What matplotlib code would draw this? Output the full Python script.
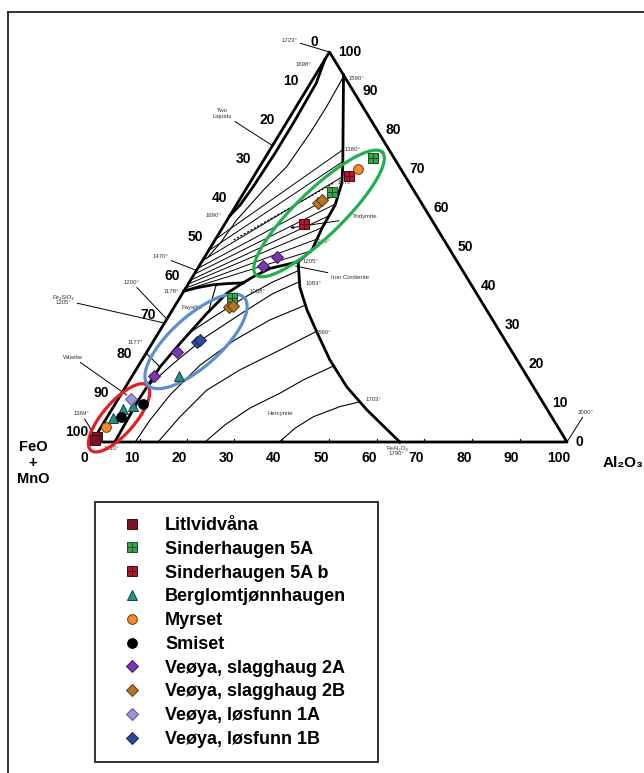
import numpy as np
import matplotlib
matplotlib.use("Agg")
import matplotlib.pyplot as plt
from matplotlib.path import Path
from matplotlib.patches import Rectangle
from matplotlib.lines import Line2D

# sample compositions in wt% (Al2O3, SiO2); FeO+MnO makes up the rest
litlvidvana_al = [0.3, 0.4]
litlvidvana_si = [1.4, 0.5]
sind5a_al = [11.1, 18.4, 22.8]
sind5a_si = [36.9, 64.2, 72.9]
sind5ab_al = [20.1, 16.7]
sind5ab_si = [68.2, 55.8]
berglom_al = [1.4, 2.2, 4.0, 9.9]
berglom_si = [6.2, 8.5, 9.2, 16.9]
myrset_al = [1.0, 20.9]
myrset_si = [3.9, 70.0]
smiset_al = [2.9, 5.8]
smiset_si = [6.5, 9.8]
veoya2a_al = [4.7, 6.4, 15.1, 13.3]
veoya2a_si = [16.9, 23.1, 47.5, 45.2]
veoya2b_al = [11.5, 12.1, 16.9, 17.3]
veoya2b_si = [34.5, 35.0, 61.2, 62.1]
veoya1a_al = [2.7]
veoya1a_si = [11.0]
veoya1b_al = [9.2, 9.6]
veoya1b_si = [25.7, 26.2]

tick_values = list(range(0, 101, 10))

# phase diagram boundaries (Al2O3, SiO2)
two_liquid = [(0, 98), (1.2, 92), (1.5, 82), (1.5, 74), (1.2, 65.4), (0.8, 60.8), (0, 58)]
silica_mullite = [(5.9, 94.1), (17.3, 71.0), (19.4, 66.4), (20.8, 60.8), (21.0, 54.9), (21.7, 49.2), (20.3, 46.2)]
silica_hercynite = [(20.3, 46.2), (15.2, 44.5), (12.7, 42.3), (11.4, 40.8)]
fayalite_silica = [(11.4, 40.8), (8.0, 40.6), (5.3, 40.3), (2.5, 39.6), (0, 38.7)]
fayalite_hercynite = [(11.4, 40.8), (9.3, 38.1), (7.7, 33.0), (5.9, 25.3), (4.7, 19.3), (4.4, 10.8), (4.8, 0)]
hercynite_rim = [(20.3, 46.2), (23.9, 39.7), (28.3, 33.9), (33.4, 28.0), (39.6, 21.0),
                 (46.6, 14.1), (53.8, 8.2), (64.8, 0)]
thick_lines = [two_liquid, silica_mullite, silica_hercynite, fayalite_silica,
               fayalite_hercynite, hercynite_rim]

wustite_fayalite = [(0, 22.8), (4.6, 19.3)]
iso_fayalite = [(6.0, 40.3), (7.6, 34.2)]
iso_silica = [(6.1, 93.7), (6.4, 86.0), (6.3, 79.2), (5.7, 70.6), (3.8, 64.6), (2.0, 56.9), (1.5, 51.0), (0.6, 47.0)]
iso_h1 = [(39.4, 0), (41.0, 3.6), (43.4, 6.5), (47.7, 9.1), (51.2, 10.3)]
iso_h2 = [(23.8, 0), (25.8, 4.4), (28.9, 8.7), (33.3, 12.5), (36.5, 15.9), (41.0, 19.4)]
iso_h3 = [(13.9, 0), (15.3, 6.5), (17.5, 13.3), (21.9, 18.5), (27.8, 23.6), (33.0, 28.3)]
iso_h4 = [(9.1, 0), (9.4, 5.6), (10.4, 12.1), (12.9, 19.7), (17.0, 26.2), (21.8, 31.3), (27.4, 35.1)]
iso_h5 = [(4.5, 14), (7.0, 20), (10.5, 27), (15.0, 33), (19.0, 38), (23.1, 41.1)]
iso_h6 = [(6.5, 28), (9.5, 32), (13.5, 37), (17.5, 41), (21.3, 43.8)]
thin_lines = [wustite_fayalite, iso_fayalite, iso_silica, iso_h1, iso_h2, iso_h3, iso_h4, iso_h5, iso_h6]

fan_start_si = [38.9, 39.5, 40.5, 41.5, 43.0, 44.5, 46.5, 49.0, 52.0]
fan_end_al = [21.6, 21.3, 21.0, 20.9, 20.7, 20.1, 18.7, 16.9, 15.4]
fan_end_si = [49.0, 52.0, 55.0, 58.0, 61.0, 64.0, 68.0, 72.0, 75.0]
dashed_line = [(3.9, 51.8), (17.6, 66.3)]

# pixel scale of the scanned triangle
PX_X = 4.75
PX_Y = 3.9


def tern(a, s):
    a = np.asarray(a, float)
    s = np.asarray(s, float)
    return a + s / 2, s


def draw_line(ax, pts, **kw):
    p = np.array(pts, float)
    x, y = tern(p[:, 0], p[:, 1])
    ax.plot(x, y, **kw)


def ring(a, s, ra, rb, ang):
    x0, y0 = tern(a, s)
    t = np.linspace(0, 2 * np.pi, 240)
    th = np.radians(ang)
    du = ra * np.cos(t) * np.cos(th) - rb * np.sin(t) * np.sin(th)
    dv = ra * np.cos(t) * np.sin(th) + rb * np.sin(t) * np.cos(th)
    return x0 + du / PX_X, y0 + dv / PX_Y


fig = plt.figure(figsize=(6.44, 7.73), dpi=100)
ax = fig.add_axes([0, 0, 1, 1])
ax.set_xlim(-92 / PX_X, (644 - 92) / PX_X)
ax.set_ylim((442 - 773) / PX_Y, 442 / PX_Y)
ax.axis('off')

# outer frame of the scanned page
fig.add_artist(Line2D([8 / 644, 1], [1 - 12 / 773] * 2, transform=fig.transFigure, color='#222', lw=1.3))
fig.add_artist(Line2D([8 / 644] * 2, [0, 1 - 12 / 773], transform=fig.transFigure, color='#222', lw=1.3))

# triangle
draw_line(ax, [(0, 0), (100, 0), (0, 100), (0, 0)], color='black', lw=2.0, zorder=3)
for k in tick_values[1:-1]:
    x, y = tern(k, 0)
    ax.plot([x, x], [y, y + 0.8], color='black', lw=0.8)

for ln in thick_lines:
    draw_line(ax, ln, color='black', lw=2.0, zorder=3)
for ln in thin_lines:
    draw_line(ax, ln, color='black', lw=0.8, zorder=2)
for s0, a1, s1 in zip(fan_start_si, fan_end_al, fan_end_si):
    draw_line(ax, [(0, s0), (a1, s1)], color='black', lw=0.7, zorder=2)
draw_line(ax, dashed_line, color='black', lw=0.8, ls=(0, (2, 1.5)), zorder=2)

# tick labels
tick_font = dict(family='Liberation Sans', weight='bold', size=10)
for k in tick_values:
    ax.annotate(str(k), tern(k, 0), xytext=(-8, -16), textcoords='offset pixels',
                ha='center', va='center', **tick_font)
    ax.annotate(str(k), tern(0, 100 - k), xytext=(-15, 10), textcoords='offset pixels',
                ha='center', va='center', **tick_font)
    ax.annotate(str(k), tern(100 - k, k), xytext=(9, 0), textcoords='offset pixels',
                ha='left', va='center', **tick_font)

ax.annotate('FeO\n+\nMnO', tern(0, 0), xytext=(-59, -21), textcoords='offset pixels',
            ha='center', va='center', family=['Liberation Sans', 'DejaVu Sans'],
            weight='bold', size=10.5)
ax.annotate('Al₂O₃', tern(100, 0), xytext=(56, -21), textcoords='offset pixels',
            ha='center', va='center', family=['Liberation Sans', 'DejaVu Sans'],
            weight='bold', size=11)

# small temperature / field labels
small = dict(family=['Liberation Sans', 'DejaVu Sans'], size=4.3, color='#333')
lead = dict(arrowstyle='-', color='black', lw=0.7, shrinkA=0, shrinkB=0)
ax.annotate('1723°', tern(0, 100), xytext=(-40, 12), textcoords='offset pixels',
            ha='center', va='center', arrowprops=lead, **small)
ax.annotate('Two\nLiquids', tern(0, 76), xytext=(-50, 32), textcoords='offset pixels',
            ha='center', va='center', arrowprops=lead, **small)
ax.annotate('1470°', tern(0, 44), xytext=(-36, 14), textcoords='offset pixels',
            ha='center', va='center', arrowprops=lead, **small)
ax.annotate('1200°', tern(0, 31.5), xytext=(-35, 37), textcoords='offset pixels',
            ha='center', va='center', arrowprops=lead, **small)
ax.annotate('Fe₂SiO₄\n1205°', tern(0, 30.5), xytext=(-101, 23), textcoords='offset pixels',
            ha='center', va='center', arrowprops=lead, **small)
ax.annotate('Wüstite', tern(1.35, 12.0), xytext=(-54, 38), textcoords='offset pixels',
            ha='center', va='center', arrowprops=lead, **small)
ax.annotate('1369°', tern(0, 1.4), xytext=(-14, 23), textcoords='offset pixels',
            ha='center', va='center', arrowprops=lead, **small)
ax.annotate('2000°', tern(100, 0), xytext=(19, 30), textcoords='offset pixels',
            ha='center', va='center', arrowprops=lead, **small)
ax.annotate('Iron Cordierite', tern(20.3, 45.1), xytext=(35, -11), textcoords='offset pixels',
            ha='left', va='center', arrowprops=lead, **small)
ax.annotate('Tridymite', tern(14.25, 54.9), xytext=(75, 11), textcoords='offset pixels',
            ha='center', va='center',
            arrowprops=dict(arrowstyle='->', color='black', lw=0.7, shrinkA=8, shrinkB=0), **small)

plain_labels = [('1698°', -3.9, 96.7), ('1590°', 9.1, 93.3), ('1690°', -3.6, 58.2),
                ('1178°', -2.5, 38.5), ('Fayalite', 3.9, 34.4), ('1177°', -3.6, 25.4),
                ('1088°', 15.4, 38.7), ('1205°', 22.7, 46.4), ('1083°', 26.2, 40.7),
                ('1560°', 34.7, 28.0), ('Hercynite', 35.9, 7.4), ('1380°', 17.3, 74.9),
                ('1370°', 20.2, 66.5), ('1240°', 22.8, 51.3)]
for txt, a, s in plain_labels:
    ax.text(*tern(a, s), txt, ha='center', va='center', **small)
ax.text(*tern(52.1, 10.8), '1703°', ha='left', va='center', **small)
ax.annotate('1310°', tern(4.0, 0), xytext=(0, -6), textcoords='offset pixels',
            ha='center', va='center', **small)
ax.annotate('FeAl₂O₄\n1790°', tern(64.2, 0), xytext=(0, -9), textcoords='offset pixels',
            ha='center', va='center', linespacing=0.9, **small)

# ellipses around sample groups
for (a, s, ra, rb, ang, col) in [(2.6, 6.2, 43, 16, 49, '#e31e24'),
                                 (9.0, 25.8, 65, 25, 42, '#5b8fd0'),
                                 (18.5, 58.6, 88, 23, 44, '#22b04b')]:
    ex, ey = ring(a, s, ra, rb, ang)
    ax.plot(ex, ey, color=col, lw=2.3, zorder=4)

# sample markers
sq_plus = Path([(-1, -1), (1, -1), (1, 1), (-1, 1), (-1, -1), (0, -1), (0, 1), (-1, 0), (1, 0)],
               [Path.MOVETO, Path.LINETO, Path.LINETO, Path.LINETO, Path.CLOSEPOLY,
                Path.MOVETO, Path.LINETO, Path.MOVETO, Path.LINETO])

series = [
    ('Litlvidvåna', litlvidvana_al, litlvidvana_si, 's', '#7a1426', '#3a0a10', 6.5),
    ('Sinderhaugen 5A', sind5a_al, sind5a_si, sq_plus, '#38a448', '#1d4d22', 7),
    ('Sinderhaugen 5A b', sind5ab_al, sind5ab_si, sq_plus, '#b3142f', '#4a0a12', 7),
    ('Berglomtjønnhaugen', berglom_al, berglom_si, '^', '#2b8c84', '#124640', 7),
    ('Myrset', myrset_al, myrset_si, 'o', '#f28c28', '#6b3a10', 7),
    ('Smiset', smiset_al, smiset_si, 'o', 'black', 'black', 7),
    ('Veøya, slagghaug 2A', veoya2a_al, veoya2a_si, 'D', '#7a35b0', '#3d1a5a', 6),
    ('Veøya, slagghaug 2B', veoya2b_al, veoya2b_si, 'D', '#b8742a', '#5a3510', 6),
    ('Veøya, løsfunn 1A', veoya1a_al, veoya1a_si, 'D', '#a095dd', '#5a5090', 6),
    ('Veøya, løsfunn 1B', veoya1b_al, veoya1b_si, 'D', '#2f4a9a', '#16244d', 6),
]
handles = []
for name, al, si, mk, fc, ec, ms in series:
    x, y = tern(al, si)
    h, = ax.plot(x, y, ls='none', marker=mk, mfc=fc, mec=ec, mew=0.7, ms=ms, zorder=5, label=name)
    handles.append(h)

# legend box
fig.add_artist(Rectangle((95 / 644, 1 - 762 / 773), 283 / 644, 260 / 773,
                         transform=fig.transFigure, fill=False, ec='#222', lw=1.3))
fig.legend(handles=handles, loc='upper left', bbox_to_anchor=(123 / 644, 1 - 517 / 773),
           bbox_transform=fig.transFigure, frameon=False, borderpad=0, borderaxespad=0,
           handlelength=1.0, handletextpad=1.33, labelspacing=0.375,
           prop=dict(family='Liberation Sans', weight='bold', size=13))

fig.savefig('out.png', dpi=100)
